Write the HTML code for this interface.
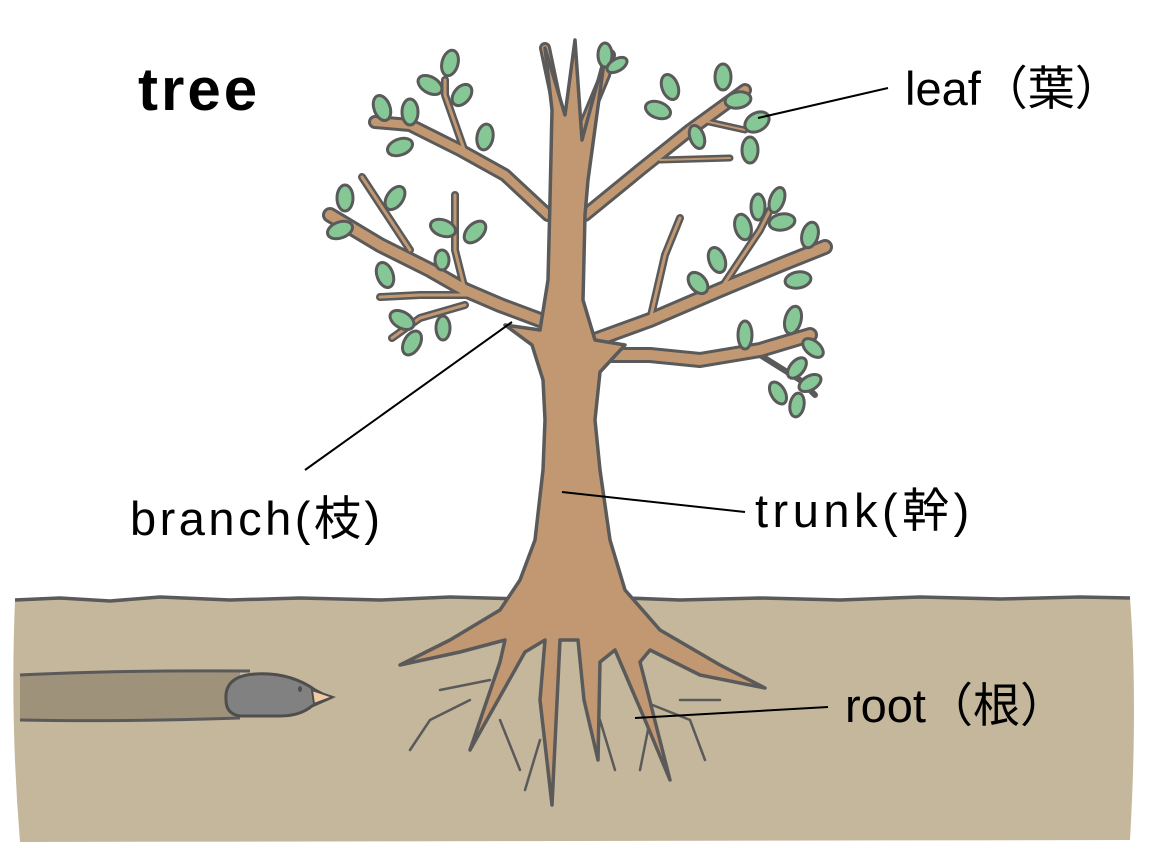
<!DOCTYPE html>
<html><head><meta charset="utf-8"><style>
html,body{margin:0;padding:0;background:#fff;}
svg{display:block}
</style></head><body>
<svg width="1159" height="851" viewBox="0 0 1159 851" xmlns="http://www.w3.org/2000/svg">
<!-- ground -->
<path d="M15,600 L60,598 L110,601 L160,597 L230,600 L300,598 L380,600 L450,597 L520,599 L600,597 L680,600 L760,598 L840,600 L920,597 L1000,599 L1080,597 L1130,598 Q1138,700 1130,840 L20,842 Q10,720 15,600 Z" fill="#c5b79c"/>
<path d="M15,600 L60,598 L110,601 L160,597 L230,600 L300,598 L380,600 L450,597 L520,599 L600,597 L680,600 L760,598 L840,600 L920,597 L1000,599 L1080,597 L1130,598" fill="none" stroke="#5a5a5a" stroke-width="3.5" stroke-linejoin="round"/>
<!-- tunnel -->
<path d="M20,675 Q120,670 240,672 L240,718 Q120,722 20,720 Z" fill="#9f927b"/>
<path d="M20,675 Q120,670 250,671 M20,720 Q120,722 240,718" fill="none" stroke="#5a5a5a" stroke-width="3"/>
<!-- mole -->
<path d="M226,700 Q224,676 255,674 Q290,672 315,690 L330,698 L312,706 Q300,716 280,716 L240,716 Q226,714 226,700 Z" fill="#818181" stroke="#4e4e4e" stroke-width="3"/>
<path d="M312,690 L333,697 L314,704 Z" fill="#f2cba4" stroke="#4e4e4e" stroke-width="2"/>
<ellipse cx="300" cy="689" rx="2" ry="3" fill="#4e4e4e"/>
<!-- branches -->
<g fill="none" stroke-linecap="round" stroke-linejoin="round">
<g stroke="#5a5a5a">
<path stroke-width="14" d="M548,215 L505,175 L460,150 L410,125 L375,122"/>
<path stroke-width="8" d="M465,152 L445,95 L445,80"/>
<path stroke-width="16" d="M540,320 L500,305 L465,290 L430,270 L380,245 L330,215"/>
<path stroke-width="8" d="M465,290 L455,250 L455,195 M468,295 L420,295 L380,297 M465,305 L420,318 L392,338 M410,250 L362,177"/>
<path stroke-width="12" d="M578,140 L605,75 L610,55 M560,200 L558,110 L545,48"/>
<path stroke-width="14" d="M585,215 L640,170 L690,130 L745,90"/>
<path stroke-width="7" d="M660,160 L730,158 M700,120 L745,130"/>
<path stroke-width="16" d="M595,340 L650,320 L720,290 L780,265 L825,247"/>
<path stroke-width="8" d="M650,320 L665,255 L680,218 M720,290 L760,230 L770,210"/>
<path stroke-width="16" d="M605,355 L650,355 L700,360 L760,350 L810,335"/>
<path stroke-width="6" d="M760,355 L800,380 L815,395"/>
</g>
<g stroke="#c29872">
<path stroke-width="8" d="M548,215 L505,175 L460,150 L410,125 L375,122"/>
<path stroke-width="3" d="M465,152 L445,95 L445,80"/>
<path stroke-width="10" d="M540,320 L500,305 L465,290 L430,270 L380,245 L330,215"/>
<path stroke-width="3" d="M465,290 L455,250 L455,195 M468,295 L420,295 L380,297 M465,305 L420,318 L392,338 M410,250 L362,177"/>
<path stroke-width="6" d="M578,140 L605,75 L610,55 M560,200 L558,110 L545,48"/>
<path stroke-width="8" d="M585,215 L640,170 L690,130 L745,90"/>
<path stroke-width="2" d="M660,160 L730,158 M700,120 L745,130"/>
<path stroke-width="10" d="M595,340 L650,320 L720,290 L780,265 L825,247"/>
<path stroke-width="3" d="M650,320 L665,255 L680,218 M720,290 L760,230 L770,210"/>
<path stroke-width="10" d="M605,355 L650,355 L700,360 L760,350 L810,335"/>
</g>
</g>
<!-- thin roots -->
<g fill="none" stroke="#5a5a5a" stroke-width="2.5" stroke-linecap="round">
<path d="M470,700 L430,720 L410,750 M490,680 L440,690 M500,720 L520,770 M540,740 L525,790 M600,720 L615,770 M640,700 L690,720 L705,760 M650,720 L640,770 M680,700 L720,700"/>
</g>
<!-- trunk + roots -->
<path d="M545,48 L565,115 L575,40 L582,140 L605,55 L588,180 L585,215 L583,300 L595,340 L625,345 L600,372 L595,420 L600,470 L610,540 L625,590 L660,630 L720,665 L765,688 L700,675 L650,650 L640,662 L670,780 L645,720 L615,650 L600,662 L598,760 L584,700 L578,640 L560,640 L552,805 L540,700 L545,640 L525,652 L470,750 L500,662 L505,640 L460,652 L400,665 L450,640 L500,610 L520,580 L535,540 L543,470 L545,420 L543,380 L532,345 L505,325 L540,330 L548,280 L550,200 L552,110 Z" fill="#c29872" stroke="#5a5a5a" stroke-width="3.5" stroke-linejoin="round"/>
<!-- leaves -->
<g fill="#86c796" stroke="#5a5a5a" stroke-width="3">
<ellipse cx="450" cy="63" rx="8" ry="13" transform="rotate(15 450 63)"/>
<ellipse cx="430" cy="85" rx="8" ry="13" transform="rotate(-60 430 85)"/>
<ellipse cx="462" cy="95" rx="8" ry="12" transform="rotate(40 462 95)"/>
<ellipse cx="382" cy="108" rx="8" ry="13" transform="rotate(-20 382 108)"/>
<ellipse cx="410" cy="112" rx="8" ry="13"/>
<ellipse cx="400" cy="147" rx="8" ry="13" transform="rotate(70 400 147)"/>
<ellipse cx="485" cy="137" rx="8" ry="13" transform="rotate(10 485 137)"/>
<ellipse cx="345" cy="198" rx="8" ry="13"/>
<ellipse cx="340" cy="230" rx="8" ry="13" transform="rotate(70 340 230)"/>
<ellipse cx="395" cy="198" rx="8" ry="13" transform="rotate(35 395 198)"/>
<ellipse cx="443" cy="228" rx="8" ry="13" transform="rotate(-70 443 228)"/>
<ellipse cx="475" cy="232" rx="8" ry="13" transform="rotate(45 475 232)"/>
<ellipse cx="442" cy="260" rx="7" ry="10"/>
<ellipse cx="385" cy="275" rx="8" ry="13" transform="rotate(-20 385 275)"/>
<ellipse cx="402" cy="320" rx="8" ry="13" transform="rotate(-60 402 320)"/>
<ellipse cx="412" cy="343" rx="8" ry="13" transform="rotate(30 412 343)"/>
<ellipse cx="443" cy="328" rx="7" ry="12"/>
<ellipse cx="605" cy="55" rx="7" ry="12"/>
<ellipse cx="617" cy="65" rx="6" ry="11" transform="rotate(60 617 65)"/>
<ellipse cx="670" cy="87" rx="8" ry="13" transform="rotate(-20 670 87)"/>
<ellipse cx="658" cy="110" rx="8" ry="13" transform="rotate(-70 658 110)"/>
<ellipse cx="723" cy="77" rx="8" ry="13"/>
<ellipse cx="738" cy="100" rx="8" ry="13" transform="rotate(80 738 100)"/>
<ellipse cx="757" cy="122" rx="9" ry="13" transform="rotate(60 757 122)"/>
<ellipse cx="750" cy="150" rx="8" ry="13"/>
<ellipse cx="697" cy="137" rx="7" ry="12" transform="rotate(-20 697 137)"/>
<ellipse cx="717" cy="260" rx="8" ry="13" transform="rotate(-20 717 260)"/>
<ellipse cx="698" cy="283" rx="8" ry="12" transform="rotate(-40 698 283)"/>
<ellipse cx="743" cy="227" rx="8" ry="13" transform="rotate(-15 743 227)"/>
<ellipse cx="758" cy="207" rx="7" ry="13"/>
<ellipse cx="777" cy="200" rx="7" ry="13" transform="rotate(20 777 200)"/>
<ellipse cx="782" cy="222" rx="8" ry="13" transform="rotate(80 782 222)"/>
<ellipse cx="810" cy="235" rx="8" ry="13" transform="rotate(15 810 235)"/>
<ellipse cx="798" cy="280" rx="8" ry="13" transform="rotate(80 798 280)"/>
<ellipse cx="745" cy="335" rx="7" ry="14"/>
<ellipse cx="793" cy="320" rx="8" ry="14" transform="rotate(15 793 320)"/>
<ellipse cx="813" cy="348" rx="7" ry="12" transform="rotate(-50 813 348)"/>
<ellipse cx="797" cy="368" rx="7" ry="12" transform="rotate(40 797 368)"/>
<ellipse cx="810" cy="383" rx="7" ry="12" transform="rotate(60 810 383)"/>
<ellipse cx="778" cy="393" rx="7" ry="12" transform="rotate(-30 778 393)"/>
<ellipse cx="797" cy="405" rx="7" ry="12" transform="rotate(10 797 405)"/>
</g>
<!-- leader lines -->
<g stroke="#000" stroke-width="2">
<line x1="758" y1="118" x2="888" y2="88"/>
<line x1="512" y1="322" x2="305" y2="470"/>
<line x1="562" y1="492" x2="745" y2="512"/>
<line x1="635" y1="718" x2="828" y2="707"/>
</g>
<g font-family="'Liberation Sans','Noto Sans CJK JP',sans-serif" fill="#000">
<text x="138" y="110" font-size="60" font-weight="bold" letter-spacing="3">tree</text>
<text x="905" y="105" font-size="47">leaf（葉）</text>
<text x="130" y="535" font-size="47" letter-spacing="3.5">branch(枝)</text>
<text x="755" y="527" font-size="47" letter-spacing="4.5">trunk(幹)</text>
<text x="845" y="722" font-size="47">root（根）</text>
</g>
</svg>
</body></html>
